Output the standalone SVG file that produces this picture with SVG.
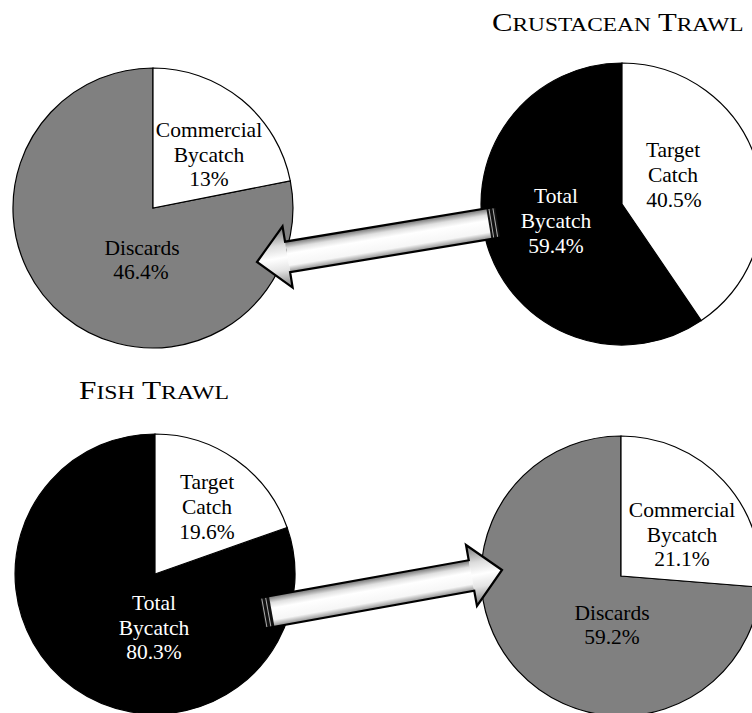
<svg xmlns="http://www.w3.org/2000/svg" width="752" height="713" viewBox="0 0 752 713">
  <style>
    .slice { stroke: #000; stroke-width: 1.2; }
    .white { fill: #fff; }
    .gray { fill: #808080; }
    .black { fill: #000; }
    .lbl { font-family: "Liberation Serif", "Times New Roman", serif; font-size: 21.5px; text-anchor: middle; fill: #000; }
    .lblw { fill: #fff; }
    .title { font-family: "Liberation Serif", "Times New Roman", serif; fill: #000; }
    .arrow-outline { fill: none; stroke: #000; stroke-width: 2.2; stroke-linejoin: miter; }
    .tail { fill: #111; }
    .tailline { stroke: #b0b0b0; stroke-width: 1; }
  </style>
  <defs>
    <linearGradient id="shaftGrad" gradientUnits="userSpaceOnUse" x1="0" y1="-15.5" x2="0" y2="15.5">
      <stop offset="0" stop-color="#6e6e6e"/>
      <stop offset="0.22" stop-color="#e0e0e0"/>
      <stop offset="0.4" stop-color="#ffffff"/>
      <stop offset="0.78" stop-color="#f6f6f6"/>
      <stop offset="1" stop-color="#8a8a8a"/>
    </linearGradient>
    <linearGradient id="headGrad" gradientUnits="userSpaceOnUse" x1="0" y1="-31" x2="0" y2="31">
      <stop offset="0" stop-color="#707070"/>
      <stop offset="0.3" stop-color="#dcdcdc"/>
      <stop offset="0.5" stop-color="#ffffff"/>
      <stop offset="0.7" stop-color="#e4e4e4"/>
      <stop offset="1" stop-color="#7a7a7a"/>
    </linearGradient>
  </defs>
  <rect width="752" height="713" fill="#fff"/>

  <!-- Titles -->
  <g id="title-crustacean">
    <text class="title" transform="translate(492,31) scale(1.23,1)"><tspan font-size="25">C</tspan><tspan font-size="19">RUSTACEAN</tspan><tspan font-size="25"> T</tspan><tspan font-size="19">RAWL</tspan></text>
  </g>
  <g id="title-fish">
    <text class="title" transform="translate(79,399) scale(1.25,1)"><tspan font-size="25">F</tspan><tspan font-size="19">ISH</tspan><tspan font-size="25"> T</tspan><tspan font-size="19">RAWL</tspan></text>
  </g>

  <!-- Crustacean bycatch breakdown -->
  <g id="pie-crustacean-bycatch">
    <path class="slice gray" d="M153,208 L290.3,180.8 A140,140 0 1 1 153,68 Z"/>
    <path class="slice white" d="M153,208 L153,68 A140,140 0 0 1 290.3,180.8 Z"/>
    <text class="lbl" x="209" y="137">Commercial</text>
    <text class="lbl" x="209" y="161.5">Bycatch</text>
    <text class="lbl" x="209" y="186">13%</text>
    <text class="lbl" x="142" y="255">Discards</text>
    <text class="lbl" x="141" y="279">46.4%</text>
  </g>

  <!-- Crustacean trawl total -->
  <g id="pie-crustacean-total">
    <path class="slice black" d="M622,204 L701.3,320.6 A141,141 0 1 1 622,63 Z"/>
    <path class="slice white" d="M622,204 L622,63 A141,141 0 0 1 701.3,320.6 Z"/>
    <text class="lbl" x="673" y="157">Target</text>
    <text class="lbl" x="673" y="182">Catch</text>
    <text class="lbl" x="674" y="207">40.5%</text>
    <text class="lbl lblw" x="556" y="203">Total</text>
    <text class="lbl lblw" x="556" y="228">Bycatch</text>
    <text class="lbl lblw" x="556" y="253">59.4%</text>
  </g>

  <!-- Fish trawl total -->
  <g id="pie-fish-total">
    <path class="slice black" d="M155,574 L287.1,527.5 A140,140 0 1 1 155,434 Z"/>
    <path class="slice white" d="M155,574 L155,434 A140,140 0 0 1 287.1,527.5 Z"/>
    <text class="lbl" x="207" y="489">Target</text>
    <text class="lbl" x="207" y="514">Catch</text>
    <text class="lbl" x="207" y="539">19.6%</text>
    <text class="lbl lblw" x="154" y="610">Total</text>
    <text class="lbl lblw" x="154" y="634.5">Bycatch</text>
    <text class="lbl lblw" x="154" y="659">80.3%</text>
  </g>

  <!-- Fish bycatch breakdown -->
  <g id="pie-fish-bycatch">
    <path class="slice gray" d="M621,576 L760.5,587.2 A140,140 0 1 1 621,436 Z"/>
    <path class="slice white" d="M621,576 L621,436 A140,140 0 0 1 760.5,587.2 Z"/>
    <text class="lbl" x="682" y="517">Commercial</text>
    <text class="lbl" x="682" y="541.5">Bycatch</text>
    <text class="lbl" x="682" y="566">21.1%</text>
    <text class="lbl" x="612" y="620">Discards</text>
    <text class="lbl" x="612" y="644">59.2%</text>
  </g>

  <!-- Connectors -->
  <g id="connectors">
    <g id="arrow-crustacean" transform="translate(257,262) rotate(-9.4)">
      <rect x="31" y="-15.5" width="214" height="31" fill="url(#shaftGrad)"/>
      <polygon points="0,0 31,-31 31,31" fill="url(#headGrad)"/>
      <rect class="tail" x="235" y="-15.5" width="10" height="31"/>
      <line class="tailline" x1="237.5" y1="-15" x2="237.5" y2="15"/>
      <line class="tailline" x1="241.5" y1="-15" x2="241.5" y2="15"/>
      <polygon class="arrow-outline" points="0,0 31,-31 31,-15.5 245,-15.5 245,15.5 31,15.5 31,31"/>
    </g>
    <g id="arrow-fish" transform="translate(502,570) rotate(-10.2)">
      <rect x="-244" y="-15.5" width="213" height="31" fill="url(#shaftGrad)"/>
      <polygon points="0,0 -31,-31 -31,31" fill="url(#headGrad)"/>
      <rect class="tail" x="-244" y="-15.5" width="10" height="31"/>
      <line class="tailline" x1="-241.5" y1="-15" x2="-241.5" y2="15"/>
      <line class="tailline" x1="-237.5" y1="-15" x2="-237.5" y2="15"/>
      <polygon class="arrow-outline" points="0,0 -31,-31 -31,-15.5 -244,-15.5 -244,15.5 -31,15.5 -31,31"/>
    </g>
  </g>
</svg>
